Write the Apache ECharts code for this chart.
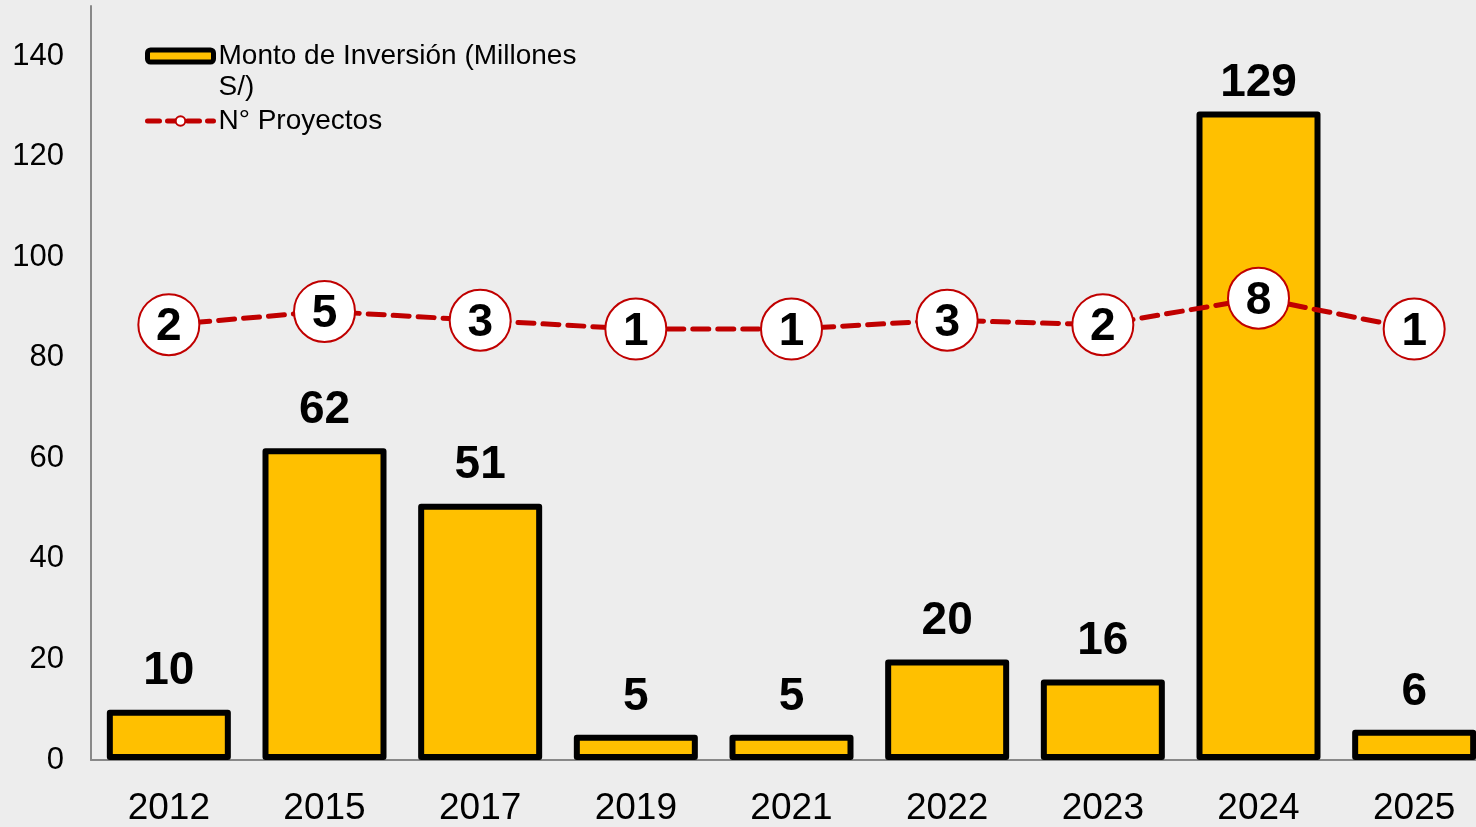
<!DOCTYPE html>
<html>
<head>
<meta charset="utf-8">
<script src="https://cdn.jsdelivr.net/npm/echarts@6/dist/echarts.min.js"></script>
<style>
  html, body { margin: 0; padding: 0; background: #ededed; overflow: hidden; }
  /* the plot runs past the right edge of the picture, as in the reference */
  #chart { width: 1492px; height: 827px; }
</style>
</head>
<body>
<div id="chart"></div>
<script>
const years = ['2012', '2015', '2017', '2019', '2021', '2022', '2023', '2024', '2025'];
const inversion = [10, 62, 51, 5, 5, 20, 16, 129, 6];
const proyectos = [2, 5, 3, 1, 1, 3, 2, 8, 1];
const barName = 'Monto de Inversión (Millones S/)';
const lineName = 'N° Proyectos';

const font = 'Liberation Sans, Arial, sans-serif';
const chart = echarts.init(document.getElementById('chart'));

// the tallest label sits closer to its bar (it is near the top of the plot)
const maxInv = Math.max(...inversion);
const barData = inversion.map((v) => v === maxInv ? { value: v, label: { distance: 5 } } : v);

chart.setOption({
  backgroundColor: '#ededed',
  textStyle: { fontFamily: font },
  grid: { left: 91, right: 0, top: 6, bottom: 63, containLabel: false },
  legend: {
    orient: 'vertical',
    left: 140,
    top: 4.5,
    itemGap: 3,
    itemWidth: 66,
    itemHeight: 12,
    selectedMode: false,
    data: [
      { name: barName, icon: 'roundRect', itemStyle: { color: '#ffc000', borderColor: '#000', borderWidth: 5 } },
      {
        name: lineName,
        lineStyle: { color: '#c00000', width: 5, type: [12, 8], cap: 'round' },
        itemStyle: { color: '#fff', borderColor: '#c00000', borderWidth: 2 }
      }
    ],
    formatter: (name) => name === barName ? '\nMonto de Inversión (Millones\nS/)' : name,
    textStyle: { fontSize: 28, color: '#000', lineHeight: 31, fontFamily: font }
  },
  xAxis: {
    type: 'category',
    data: years,
    axisLine: { lineStyle: { color: '#888', width: 2 } },
    axisTick: { length: 9, lineStyle: { color: '#888', width: 2 } },
    axisLabel: { color: '#000', fontSize: 37, margin: 30, fontFamily: font }
  },
  yAxis: [
    {
      type: 'value', min: 0, max: 150, interval: 20,
      splitLine: { show: false },
      axisLine: { show: true, lineStyle: { color: '#888', width: 2 } },
      axisTick: { show: false },
      axisLabel: { color: '#000', fontSize: 31, margin: 27, showMaxLabel: false, fontFamily: font }
    },
    {
      type: 'value', min: -96.5, max: 74.1, show: false, splitLine: { show: false }
    }
  ],
  series: [
    {
      name: barName,
      type: 'bar',
      data: barData,
      barWidth: 124,
      itemStyle: { color: '#ffc000', borderColor: '#000', borderWidth: 6, borderJoin: 'round' },
      label: {
        show: true, position: 'top', distance: 15,
        color: '#000', fontSize: 46, fontWeight: 'bold', fontFamily: font
      }
    },
    {
      name: lineName,
      type: 'line',
      yAxisIndex: 1,
      data: proyectos,
      symbol: 'circle',
      symbolSize: 61,
      z: 5,
      lineStyle: { color: '#c00000', width: 5, type: [16, 9], cap: 'round' },
      itemStyle: { color: '#fff', borderColor: '#c00000', borderWidth: 2 },
      label: {
        show: true, position: 'inside', offset: [0, 3],
        color: '#000', fontSize: 46, fontWeight: 'bold', fontFamily: font
      }
    }
  ]
});
</script>
</body>
</html>
